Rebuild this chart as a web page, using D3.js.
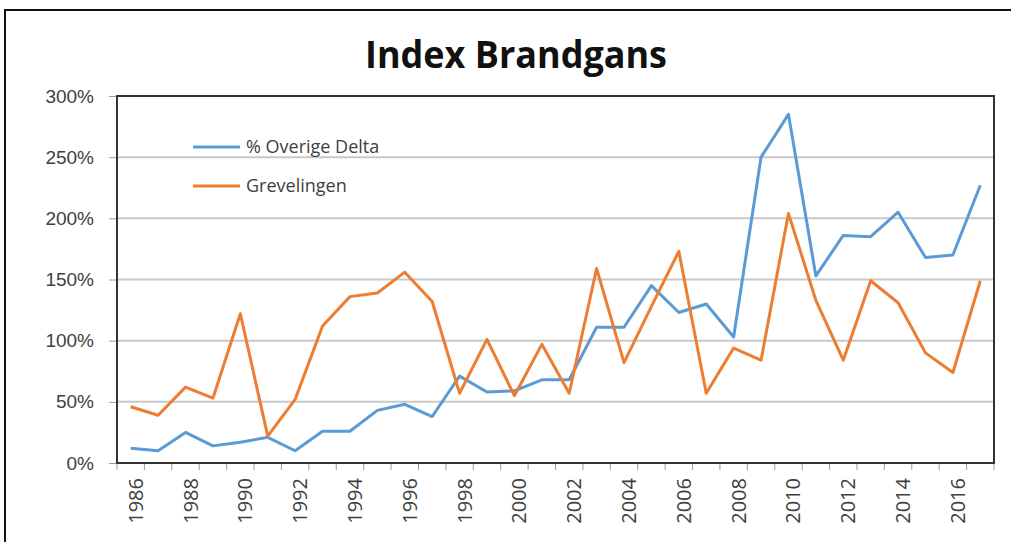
<!DOCTYPE html>
<html>
<head>
<meta charset="utf-8">
<script src="https://cdn.jsdelivr.net/npm/d3@7"></script>
<style>
  body { margin: 0; background: #fff; }
  svg { display: block; font-family: "Open Sans", "Noto Sans", sans-serif; }
</style>
</head>
<body>
<script>
// data
var years = [1986,1987,1988,1989,1990,1991,1992,1993,1994,1995,1996,1997,1998,1999,2000,2001,
             2002,2003,2004,2005,2006,2007,2008,2009,2010,2011,2012,2013,2014,2015,2016,2017];
var overigeDelta = [12,10,25,14,17,21,10,26,26,43,48,38,71,58,59,68,
                    68,111,111,145,123,130,103,250,285,153,186,185,205,168,170,227];
var grevelingen = [46,39,62,53,122,22,52,112,136,139,156,132,57,101,55,97,
                   57,159,82,128,173,57,94,84,204,133,84,149,131,90,74,149];
var yTicks = [0,50,100,150,200,250,300];
var seriesNames = ["% Overige Delta", "Grevelingen"];
var seriesColors = ["#5b9bd5", "#ed7d31"];

var width = 1011, height = 542;
var plotL = 117, plotR = 994, plotT = 96, plotB = 463;

var svg = d3.select("body").append("svg")
  .attr("width", width)
  .attr("height", height);

// outer chart frame
svg.append("rect")
  .attr("x", 5).attr("y", 10)
  .attr("width", width + 20).attr("height", height + 20)
  .attr("fill", "#fff").attr("stroke", "#111").attr("stroke-width", 2);

svg.append("text")
  .attr("x", 365).attr("y", 68)
  .attr("textLength", 302).attr("lengthAdjust", "spacingAndGlyphs")
  .style("font-size", "38px").style("font-weight", "bold")
  .attr("fill", "#111")
  .text("Index Brandgans");

var x = d3.scaleBand().domain(years).range([plotL, plotR]);
var y = d3.scaleLinear().domain([0, 300]).range([plotB, plotT]);

// gridlines
svg.append("g").selectAll("line").data(yTicks.slice(1, -1)).enter().append("line")
  .attr("x1", plotL).attr("x2", plotR)
  .attr("y1", function(d) { return y(d); }).attr("y2", function(d) { return y(d); })
  .attr("stroke", "#c8c8c8").attr("stroke-width", 2);

// y axis
var yAxis = d3.axisLeft(y).tickValues(yTicks).tickSize(8).tickPadding(15)
  .tickFormat(function(d) { return d + "%"; });
var gy = svg.append("g").attr("transform", "translate(" + plotL + ",0)").call(yAxis);
gy.select(".domain").remove();
gy.selectAll("line").attr("stroke", "#999");
gy.selectAll("text").style("font-size", "19px").attr("fill", "#404040");

// x axis: ticks between categories, labels every other year
var gx = svg.append("g").attr("transform", "translate(0," + plotB + ")");
gx.selectAll("line").data(years.concat([null])).enter().append("line")
  .attr("x1", function(d, i) { return plotL + i * x.bandwidth(); })
  .attr("x2", function(d, i) { return plotL + i * x.bandwidth(); })
  .attr("y1", 0).attr("y2", 7)
  .attr("stroke", "#999");
gx.selectAll("text").data(years.filter(function(d) { return d % 2 === 0; })).enter().append("text")
  .attr("transform", function(d) {
    return "translate(" + (x(d) + x.bandwidth() / 2 + 12) + ",15) rotate(-90)";
  })
  .attr("text-anchor", "end")
  .style("font-size", "20px").attr("fill", "#404040")
  .text(function(d) { return d; });

// plot area border
svg.append("rect")
  .attr("x", plotL).attr("y", plotT)
  .attr("width", plotR - plotL).attr("height", plotB - plotT)
  .attr("fill", "none").attr("stroke", "#333").attr("stroke-width", 2);

var line = d3.line()
  .x(function(d, i) { return x(years[i]) + x.bandwidth() / 2; })
  .y(function(d) { return y(d); });

[overigeDelta, grevelingen].forEach(function(s, k) {
  svg.append("path").datum(s)
    .attr("d", line)
    .attr("fill", "none")
    .attr("stroke", seriesColors[k])
    .attr("stroke-width", 3)
    .attr("stroke-linejoin", "round");
});

// legend
var lg = svg.append("g").selectAll("g").data(seriesNames).enter().append("g")
  .attr("transform", function(d, i) { return "translate(193," + (147 + i * 39) + ")"; });
lg.append("line").attr("x1", 0).attr("x2", 47)
  .attr("stroke", function(d, i) { return seriesColors[i]; }).attr("stroke-width", 3);
lg.append("text").attr("x", 53).attr("dy", "0.35em")
  .style("font-size", "18px").attr("fill", "#404040")
  .text(function(d) { return d; });
</script>
</body>
</html>
